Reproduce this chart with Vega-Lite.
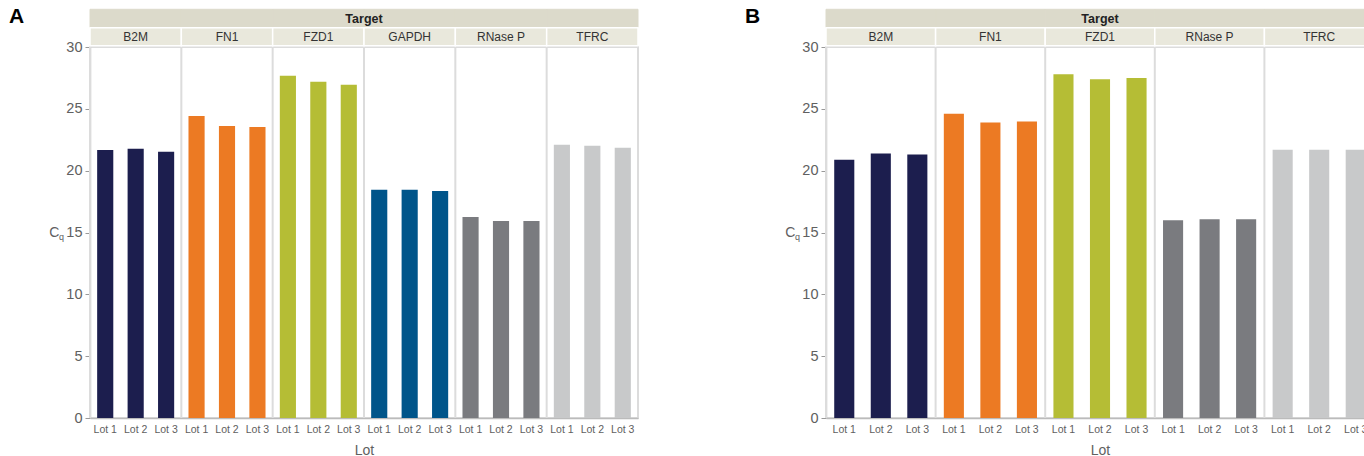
{
  "$schema": "https://vega.github.io/schema/vega-lite/v6.json",
  "padding": {"left": 8, "top": 4, "right": 0, "bottom": 0},
  "spacing": 104,
  "resolve": {"scale": {"xOffset": "independent", "color": "independent"}},
  "config": {
    "font": "Liberation Sans",
    "view": {"stroke": "#dcdcdc", "strokeWidth": 2},
    "axis": {"grid": false, "labelFont": "Liberation Sans", "titleFont": "Liberation Sans"},
    "title": {"font": "Liberation Sans"}
  },
  "datasets": {
    "a": [
      {"target": "B2M", "lot": "Lot 1", "cq": 21.68},
      {"target": "B2M", "lot": "Lot 2", "cq": 21.77},
      {"target": "B2M", "lot": "Lot 3", "cq": 21.52},
      {"target": "FN1", "lot": "Lot 1", "cq": 24.43},
      {"target": "FN1", "lot": "Lot 2", "cq": 23.62},
      {"target": "FN1", "lot": "Lot 3", "cq": 23.54},
      {"target": "FZD1", "lot": "Lot 1", "cq": 27.68},
      {"target": "FZD1", "lot": "Lot 2", "cq": 27.19},
      {"target": "FZD1", "lot": "Lot 3", "cq": 26.95},
      {"target": "GAPDH", "lot": "Lot 1", "cq": 18.45},
      {"target": "GAPDH", "lot": "Lot 2", "cq": 18.45},
      {"target": "GAPDH", "lot": "Lot 3", "cq": 18.36},
      {"target": "RNase P", "lot": "Lot 1", "cq": 16.26},
      {"target": "RNase P", "lot": "Lot 2", "cq": 15.94},
      {"target": "RNase P", "lot": "Lot 3", "cq": 15.94},
      {"target": "TFRC", "lot": "Lot 1", "cq": 22.09},
      {"target": "TFRC", "lot": "Lot 2", "cq": 22.01},
      {"target": "TFRC", "lot": "Lot 3", "cq": 21.85}
    ],
    "b": [
      {"target": "B2M", "lot": "Lot 1", "cq": 20.89},
      {"target": "B2M", "lot": "Lot 2", "cq": 21.38},
      {"target": "B2M", "lot": "Lot 3", "cq": 21.3},
      {"target": "FN1", "lot": "Lot 1", "cq": 24.6},
      {"target": "FN1", "lot": "Lot 2", "cq": 23.9},
      {"target": "FN1", "lot": "Lot 3", "cq": 23.97},
      {"target": "FZD1", "lot": "Lot 1", "cq": 27.8},
      {"target": "FZD1", "lot": "Lot 2", "cq": 27.4},
      {"target": "FZD1", "lot": "Lot 3", "cq": 27.5},
      {"target": "RNase P", "lot": "Lot 1", "cq": 16.0},
      {"target": "RNase P", "lot": "Lot 2", "cq": 16.07},
      {"target": "RNase P", "lot": "Lot 3", "cq": 16.07},
      {"target": "TFRC", "lot": "Lot 1", "cq": 21.7},
      {"target": "TFRC", "lot": "Lot 2", "cq": 21.7},
      {"target": "TFRC", "lot": "Lot 3", "cq": 21.7}
    ]
  },
  "hconcat": [
    {
      "width": 548,
      "height": 371,
      "title": {"text": "A", "anchor": "start", "frame": "group", "dx": -81, "offset": -18, "fontSize": 21, "fontWeight": "bold", "color": "#000"},
      "data": {"name": "a"},
      "layer": [
        {
          "mark": {"type": "bar"},
          "encoding": {
            "x": {"field": "target", "type": "nominal", "scale": {"paddingInner": 0, "paddingOuter": 0}, "axis": {"labels": false, "ticks": false, "title": "Lot", "domainColor": "#bbbbbb", "domainWidth": 1.5, "titlePadding": 25, "titleFontSize": 14, "titleFontWeight": "normal", "titleColor": "#606060"}},
            "xOffset": {"field": "lot", "type": "nominal", "scale": {"paddingInner": 0.47, "paddingOuter": 0.235}},
            "y": {"field": "cq", "type": "quantitative", "scale": {"domain": [0, 30], "nice": false}, "axis": {"title": "C", "titleAngle": 0, "titleAlign": "right", "titleBaseline": "middle", "titlePadding": 7, "titleFontSize": 14, "titleFontWeight": "normal", "titleColor": "#606060", "values": [0, 5, 10, 15, 20, 25, 30], "labelFontSize": 14.5, "labelColor": "#606060", "labelPadding": 3, "tickColor": "#999999", "tickSize": 5, "domainColor": "#c8c8c8", "domainWidth": 1.5}},
            "color": {"field": "target", "type": "nominal", "scale": {"domain": ["B2M", "FN1", "FZD1", "GAPDH", "RNase P", "TFRC"], "range": ["#1c1e4e", "#ec7a23", "#b5bd35", "#00558a", "#7a7b7f", "#c8c9ca"]}, "legend": null}
          }
        },
        {
          "transform": [{"filter": "datum.lot == 'Lot 1'"}],
          "mark": {"type": "rule", "color": "#dcdcdc", "strokeWidth": 2},
          "encoding": {"x": {"field": "target", "type": "nominal", "bandPosition": 0}}
        },
        {
          "transform": [{"filter": "datum.lot == 'Lot 1'"}],
          "mark": {"type": "rect", "fill": "#dcdacb", "stroke": "#dcdacb", "strokeWidth": 1},
          "encoding": {
            "x": {"field": "target", "type": "nominal"},
            "y": {"datum": 31.55, "type": "quantitative", "scale": {"domain": [0, 30], "nice": false}},
            "y2": {"datum": 33.05}
          }
        },
        {
          "transform": [{"filter": "datum.lot == 'Lot 1'"}],
          "mark": {"type": "rect", "fill": "#e9e8dc", "stroke": "#ffffff", "strokeWidth": 1.5},
          "encoding": {
            "x": {"field": "target", "type": "nominal"},
            "y": {"datum": 30.1, "type": "quantitative", "scale": {"domain": [0, 30], "nice": false}},
            "y2": {"datum": 31.55}
          }
        },
        {
          "transform": [{"filter": "datum.lot == 'Lot 1'"}],
          "mark": {"type": "text", "fontSize": 12, "color": "#333333", "baseline": "middle"},
          "encoding": {
            "x": {"field": "target", "type": "nominal"},
            "y": {"datum": 30.83, "type": "quantitative", "scale": {"domain": [0, 30], "nice": false}},
            "text": {"field": "target"}
          }
        },
        {
          "transform": [{"filter": "datum.lot == 'Lot 1' && datum.target == 'B2M'"}],
          "mark": {"type": "text", "fontSize": 12.5, "fontWeight": "bold", "color": "#222222", "baseline": "middle"},
          "encoding": {
            "y": {"datum": 32.3, "type": "quantitative", "scale": {"domain": [0, 30], "nice": false}},
            "text": {"value": "Target"}
          }
        },
        {
          "mark": {"type": "text", "fontSize": 10.5, "color": "#606060", "baseline": "middle", "dy": 12},
          "encoding": {
            "x": {"field": "target", "type": "nominal"},
            "xOffset": {"field": "lot", "type": "nominal"},
            "y": {"datum": 0, "type": "quantitative", "scale": {"domain": [0, 30], "nice": false}},
            "text": {"field": "lot"}
          }
        },
        {
          "transform": [{"filter": "datum.lot == 'Lot 1' && datum.target == 'B2M'"}],
          "mark": {"type": "text", "fontSize": 9, "color": "#606060", "align": "left", "baseline": "middle", "dx": -31},
          "encoding": {
            "x": {"field": "target", "type": "nominal", "bandPosition": 0},
            "y": {"datum": 14.6, "type": "quantitative", "scale": {"domain": [0, 30], "nice": false}},
            "text": {"value": "q"}
          }
        }
      ]
    },
    {
      "width": 548,
      "height": 371,
      "title": {"text": "B", "anchor": "start", "frame": "group", "dx": -81, "offset": -18, "fontSize": 21, "fontWeight": "bold", "color": "#000"},
      "data": {"name": "b"},
      "layer": [
        {
          "mark": {"type": "bar"},
          "encoding": {
            "x": {"field": "target", "type": "nominal", "scale": {"paddingInner": 0, "paddingOuter": 0}, "axis": {"labels": false, "ticks": false, "title": "Lot", "domainColor": "#bbbbbb", "domainWidth": 1.5, "titlePadding": 25, "titleFontSize": 14, "titleFontWeight": "normal", "titleColor": "#606060"}},
            "xOffset": {"field": "lot", "type": "nominal", "scale": {"paddingInner": 0.45, "paddingOuter": 0.225}},
            "y": {"field": "cq", "type": "quantitative", "scale": {"domain": [0, 30], "nice": false}, "axis": {"title": "C", "titleAngle": 0, "titleAlign": "right", "titleBaseline": "middle", "titlePadding": 7, "titleFontSize": 14, "titleFontWeight": "normal", "titleColor": "#606060", "values": [0, 5, 10, 15, 20, 25, 30], "labelFontSize": 14.5, "labelColor": "#606060", "labelPadding": 3, "tickColor": "#999999", "tickSize": 5, "domainColor": "#c8c8c8", "domainWidth": 1.5}},
            "color": {"field": "target", "type": "nominal", "scale": {"domain": ["B2M", "FN1", "FZD1", "GAPDH", "RNase P", "TFRC"], "range": ["#1c1e4e", "#ec7a23", "#b5bd35", "#00558a", "#7a7b7f", "#c8c9ca"]}, "legend": null}
          }
        },
        {
          "transform": [{"filter": "datum.lot == 'Lot 1'"}],
          "mark": {"type": "rule", "color": "#dcdcdc", "strokeWidth": 2},
          "encoding": {"x": {"field": "target", "type": "nominal", "bandPosition": 0}}
        },
        {
          "transform": [{"filter": "datum.lot == 'Lot 1'"}],
          "mark": {"type": "rect", "fill": "#dcdacb", "stroke": "#dcdacb", "strokeWidth": 1},
          "encoding": {
            "x": {"field": "target", "type": "nominal"},
            "y": {"datum": 31.55, "type": "quantitative", "scale": {"domain": [0, 30], "nice": false}},
            "y2": {"datum": 33.05}
          }
        },
        {
          "transform": [{"filter": "datum.lot == 'Lot 1'"}],
          "mark": {"type": "rect", "fill": "#e9e8dc", "stroke": "#ffffff", "strokeWidth": 1.5},
          "encoding": {
            "x": {"field": "target", "type": "nominal"},
            "y": {"datum": 30.1, "type": "quantitative", "scale": {"domain": [0, 30], "nice": false}},
            "y2": {"datum": 31.55}
          }
        },
        {
          "transform": [{"filter": "datum.lot == 'Lot 1'"}],
          "mark": {"type": "text", "fontSize": 12, "color": "#333333", "baseline": "middle"},
          "encoding": {
            "x": {"field": "target", "type": "nominal"},
            "y": {"datum": 30.83, "type": "quantitative", "scale": {"domain": [0, 30], "nice": false}},
            "text": {"field": "target"}
          }
        },
        {
          "transform": [{"filter": "datum.lot == 'Lot 1' && datum.target == 'B2M'"}],
          "mark": {"type": "text", "fontSize": 12.5, "fontWeight": "bold", "color": "#222222", "baseline": "middle"},
          "encoding": {
            "y": {"datum": 32.3, "type": "quantitative", "scale": {"domain": [0, 30], "nice": false}},
            "text": {"value": "Target"}
          }
        },
        {
          "mark": {"type": "text", "fontSize": 10.5, "color": "#606060", "baseline": "middle", "dy": 12},
          "encoding": {
            "x": {"field": "target", "type": "nominal"},
            "xOffset": {"field": "lot", "type": "nominal"},
            "y": {"datum": 0, "type": "quantitative", "scale": {"domain": [0, 30], "nice": false}},
            "text": {"field": "lot"}
          }
        },
        {
          "transform": [{"filter": "datum.lot == 'Lot 1' && datum.target == 'B2M'"}],
          "mark": {"type": "text", "fontSize": 9, "color": "#606060", "align": "left", "baseline": "middle", "dx": -31},
          "encoding": {
            "x": {"field": "target", "type": "nominal", "bandPosition": 0},
            "y": {"datum": 14.6, "type": "quantitative", "scale": {"domain": [0, 30], "nice": false}},
            "text": {"value": "q"}
          }
        }
      ]
    }
  ]
}
